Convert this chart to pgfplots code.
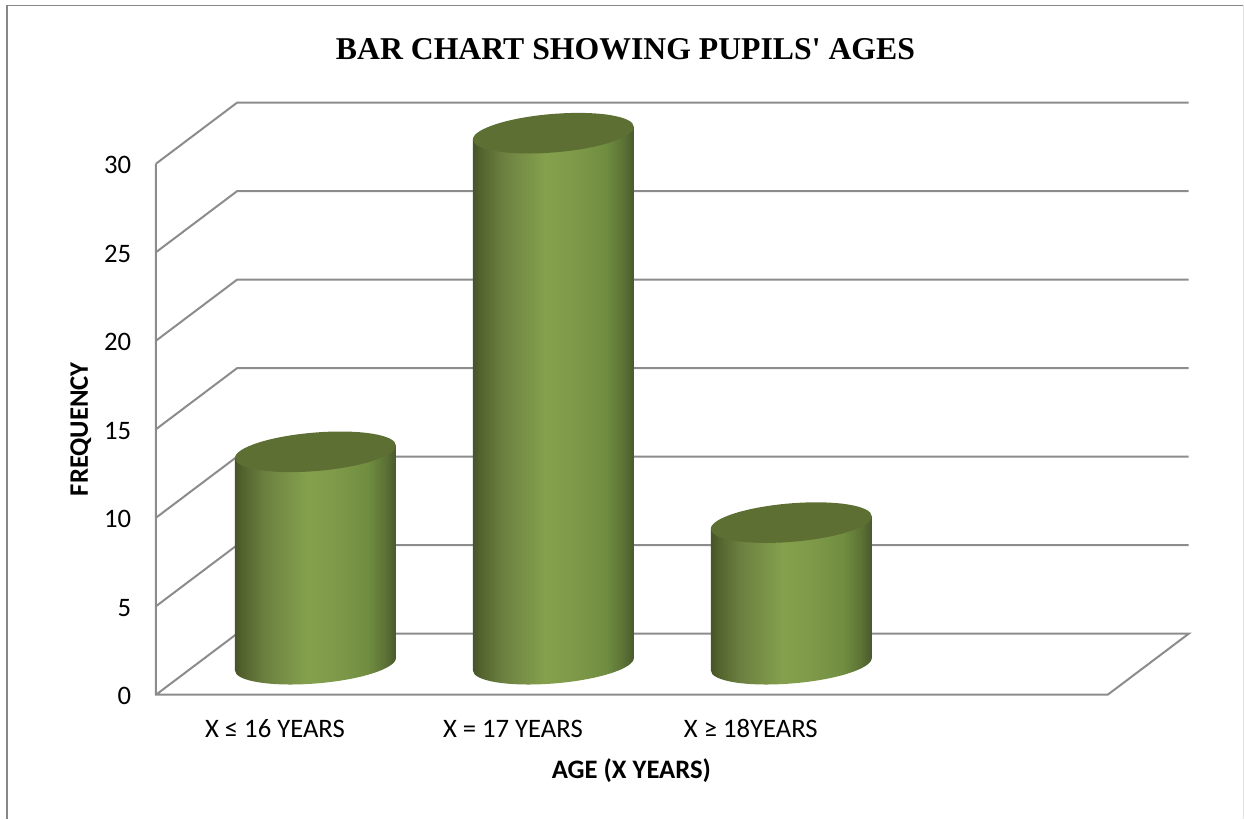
\documentclass[border=0pt]{standalone}
\usepackage{pgfplots}
\pgfplotsset{compat=1.18}
\usepackage{fontspec}
\setmainfont{Carlito}
\newfontfamily\titlefont{Liberation Serif}

\definecolor{wall}{HTML}{8C8C8C}
\definecolor{capgreen}{HTML}{5E6F34}
\definecolor{frameline}{HTML}{878787}

% Light falls on the cylinder a little left of centre
\pgfdeclarehorizontalshading{cylgreen}{100bp}{
  rgb(0bp)=(0.28,0.33,0.16);
  rgb(25bp)=(0.28,0.33,0.16);
  rgb(27.5bp)=(0.33,0.39,0.18);
  rgb(34bp)=(0.42,0.50,0.25);
  rgb(47.5bp)=(0.52,0.63,0.30);
  rgb(55bp)=(0.50,0.61,0.29);
  rgb(66.5bp)=(0.44,0.55,0.25);
  rgb(71.5bp)=(0.36,0.45,0.21);
  rgb(75bp)=(0.29,0.35,0.17);
  rgb(100bp)=(0.29,0.35,0.17)
}
\pgfdeclareplotmark{nothing}{\pgfusepath{discard}}

% Every length below is a pixel count times this unit
\def\u{0.75pt}

\begin{document}
\begin{tikzpicture}
\path[use as bounding box] (-156*\u,-124.3*\u) rectangle (1088*\u,694.7*\u);
% Outer frame of the chart area
\draw[frameline,line width=1.5*\u] (-149*\u,-124.3*\u) -- (-149*\u,689.2*\u) -- (1087*\u,689.2*\u);
\draw[black!12,line width=1*\u] (1087*\u,689.2*\u) -- (1087*\u,-124.3*\u);
\begin{axis}[
  scale only axis,
  width=713.78pt,
  height=398.25pt,
  xmin=0.5, xmax=4.5,
  ymin=0, ymax=30,
  clip=false,
  axis line style={draw=none},
  major tick length=0pt,
  xtick={1,2,3},
  xticklabels={X ≤ 16 YEARS, X = 17 YEARS, X ≥ 18YEARS},
  ytick={0,5,10,15,20,25,30},
  /pgf/number format/assume math mode=true,
  tick label style={font=\fontsize{20pt}{24pt}\selectfont},
  yticklabel style={inner sep=0pt,anchor=east,xshift=-18.5pt,yshift=-1.2pt},
  xticklabel style={inner sep=0pt,anchor=center,yshift=-25.5pt},
  title={\titlefont\bfseries BAR CHART SHOWING PUPILS' AGES},
  title style={font=\fontsize{23.8pt}{28pt}\selectfont,anchor=center,at={(axis description cs:0.4933,1.2010)}},
  xlabel={\bfseries AGE (X YEARS)},
  xlabel style={font=\fontsize{20pt}{24pt}\selectfont,anchor=center,at={(axis description cs:0.4995,-0.1434)}},
  ylabel={\bfseries FREQUENCY},
  ylabel style={font=\fontsize{20pt}{24pt}\selectfont,anchor=center,at={(axis description cs:-0.079,0.5)}},
  wall/.style={draw=wall,line width=2*\u,line join=miter,no markers,forget plot},
]
% Floor of the box and the left side wall
\addplot[wall] coordinates {(0.5,30) (0.5,0) (4.5,0) (4.8405,3.446) (0.8405,3.446) (0.5,0)};
% Lines round the side and back walls
\addplot[wall] coordinates {(0.5,5)  (0.8405,8.446)  (4.8405,8.446)};
\addplot[wall] coordinates {(0.5,10) (0.8405,13.446) (4.8405,13.446)};
\addplot[wall] coordinates {(0.5,15) (0.8405,18.446) (4.8405,18.446)};
\addplot[wall] coordinates {(0.5,20) (0.8405,23.446) (4.8405,23.446)};
\addplot[wall] coordinates {(0.5,25) (0.8405,28.446) (4.8405,28.446)};
\addplot[wall] coordinates {(0.5,30) (0.8405,33.446) (4.8405,33.446)};
% One cylinder per category, its height taken from the frequency
\addplot[
  scatter, only marks, mark=nothing,
  visualization depends on={rawy \as \freq},
  scatter/@pre marker code/.code={%
    \pgfmathsetlengthmacro{\barh}{\freq*17.7*0.75pt}%
    \pgfscope
      % cap centre sits half the box depth behind the front plane; the ellipses lean with it
      \pgftransformcm{1}{0.078}{0}{1}{\pgfpoint{30.375pt}{22.875pt}}%
      \shade[shading=cylgreen,draw=none]
        (-80.5*\u,0pt) -- (-80.5*\u,-\barh)
        arc[start angle=180,end angle=360,x radius=80.5*\u,y radius=19.3*\u]
        -- (80.5*\u,0pt) -- cycle;
      \fill[capgreen,draw=none] (0pt,0pt) ellipse[x radius=80.5*\u,y radius=19.3*\u];
    \endpgfscope
  },
  scatter/@post marker code/.code={},
] table {
x y
1 12
2 30
3 8
};
\end{axis}
\end{tikzpicture}
\end{document}
